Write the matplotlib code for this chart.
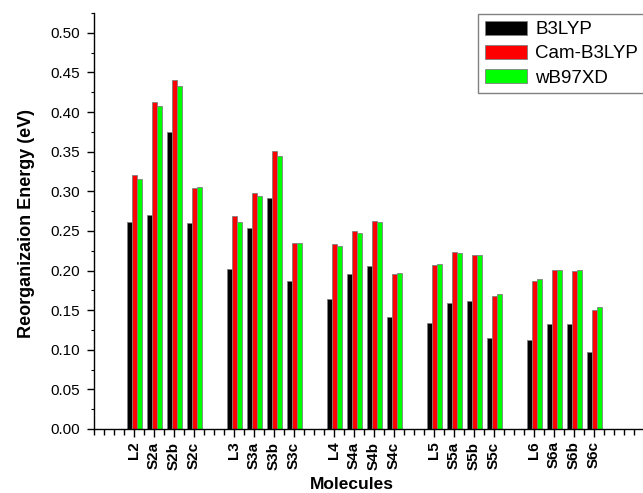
import numpy as np
import matplotlib
matplotlib.use("Agg")
import matplotlib.pyplot as plt
from matplotlib.ticker import MultipleLocator, FixedLocator

plt.rcParams['font.family'] = ['Liberation Sans', 'DejaVu Sans']

molecules = ['L2', 'S2a', 'S2b', 'S2c',
             'L3', 'S3a', 'S3b', 'S3c',
             'L4', 'S4a', 'S4b', 'S4c',
             'L5', 'S5a', 'S5b', 'S5c',
             'L6', 'S6a', 'S6b', 'S6c']

b3lyp = [0.261, 0.270, 0.375, 0.260,
         0.202, 0.254, 0.291, 0.187,
         0.164, 0.195, 0.206, 0.141,
         0.134, 0.159, 0.162, 0.115,
         0.112, 0.133, 0.133, 0.097]
cam_b3lyp = [0.321, 0.413, 0.440, 0.304,
             0.269, 0.298, 0.351, 0.235,
             0.233, 0.250, 0.263, 0.195,
             0.207, 0.223, 0.220, 0.168,
             0.187, 0.201, 0.200, 0.150]
wb97xd = [0.316, 0.408, 0.433, 0.306,
          0.261, 0.294, 0.345, 0.235,
          0.231, 0.247, 0.261, 0.197,
          0.208, 0.222, 0.220, 0.171,
          0.189, 0.201, 0.201, 0.154]

series = [('B3LYP', b3lyp, '#000000'),
          ('Cam-B3LYP', cam_b3lyp, '#ff0000'),
          ('wB97XD', wb97xd, '#00ff00')]

# four molecules per family, gap of one slot between families
idx = np.arange(len(molecules))
x = 4 + 10 * (idx // 4) + 2 * (idx % 4)
w = 0.5

fig = plt.figure(figsize=(6.43, 4.93), dpi=100)
ax = fig.add_axes([94 / 643, 1 - 429 / 493, 549 / 643, 416 / 493])

for k, (name, vals, col) in enumerate(series):
    ax.bar(x + (k - 1) * w, vals, width=w, color=col, edgecolor='#808080',
           linewidth=0.6, label=name, zorder=2)

ax.set_xlim(0, 54.9)
ax.set_ylim(0, 0.525)

ax.spines['top'].set_visible(False)
ax.spines['right'].set_visible(False)
ax.spines['left'].set_linewidth(1.0)
ax.spines['bottom'].set_linewidth(1.0)

ax.xaxis.set_major_locator(FixedLocator(x))
ax.set_xticklabels(molecules, rotation=90, fontsize=11, fontweight='bold')
ax.xaxis.set_minor_locator(MultipleLocator(1))
ax.yaxis.set_major_locator(MultipleLocator(0.05))
ax.yaxis.set_minor_locator(MultipleLocator(0.025))
ax.yaxis.set_major_formatter(matplotlib.ticker.FormatStrFormatter('%.2f'))

ax.tick_params(axis='x', which='major', direction='out', length=6, width=1, pad=3)
ax.tick_params(axis='x', which='minor', direction='out', length=4, width=1)
ax.tick_params(axis='y', which='major', direction='out', length=5, width=1,
               labelsize=11, pad=5)
ax.tick_params(axis='y', which='minor', direction='out', length=2, width=0.8)

ax.set_ylabel('Reorganizaion Energy (eV)', fontsize=13, fontweight='bold')
ax.yaxis.set_label_coords(-0.107, 0.494)
ax.set_xlabel('Molecules', fontsize=12.5, fontweight='bold')
ax.xaxis.set_label_coords(0.47, -0.116)

leg = fig.legend(loc='upper left', bbox_to_anchor=(478 / 643, 1 - 14 / 493),
                 fontsize=13.5, frameon=True, fancybox=False, shadow=False,
                 edgecolor='#808080', handlelength=2.25, handleheight=0.8,
                 handletextpad=0.45, labelspacing=0.35, borderpad=0.35,
                 borderaxespad=0)
leg.get_frame().set_linewidth(1.0)
leg.get_frame().set_alpha(1)

fig.savefig('out.png', dpi=100)
